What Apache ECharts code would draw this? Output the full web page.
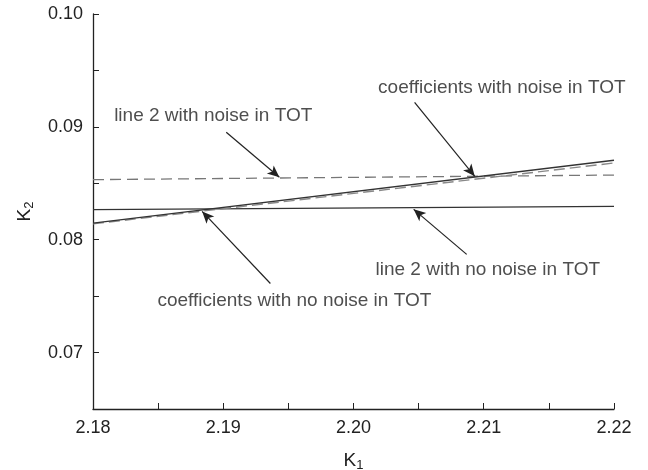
<!DOCTYPE html>
<html>
<head>
<meta charset="utf-8">
<script src="https://cdn.jsdelivr.net/npm/echarts@6/dist/echarts.min.js"></script>
<style>html,body{margin:0;padding:0;background:#fff}#c{width:648px;height:470px}</style>
</head>
<body>
<div id="c"></div>
<script>
// K1 endpoints of the straight lines
const k1Ends = [2.18, 2.22];
// K2 values at those endpoints
const coefNoNoise = [0.08147, 0.08704];   // coefficients, no noise in TOT (solid)
const coefNoise = [0.08140, 0.08680];     // coefficients, noise in TOT (dashed)
const line2NoNoise = [0.08266, 0.08295];  // line 2, no noise in TOT (solid)
const line2Noise = [0.08532, 0.08573];    // line 2, noise in TOT (dashed)

// annotations: text, anchor [K1,K2]
const annoTexts = ['line 2 with noise in TOT', 'coefficients with noise in TOT',
                   'coefficients with no noise in TOT', 'line 2 with no noise in TOT'];
const annoPos = [[2.18923, 0.09102], [2.21139, 0.09343], [2.19546, 0.07462], [2.21031, 0.07737]];
// arrows: from -> to in data space
const arrowFrom = [[2.19023, 0.08952], [2.20469, 0.09218], [2.19362, 0.07612], [2.20869, 0.07870]];
const arrowTo = [[2.19431, 0.08553], [2.20931, 0.08562], [2.18838, 0.08251], [2.20462, 0.08269]];

const xTicks = {min: 2.18, max: 2.22, step: 0.005};
const yTicks = {min: 0.065, max: 0.10, step: 0.005};

const FONT = 'Liberation Sans, Arial, Helvetica, sans-serif';
const fmt = v => (Math.round(v * 1000) % 10 === 0 ? v.toFixed(2) : '');
const pairs = ys => k1Ends.map((x, i) => [x, ys[i]]);

const chart = echarts.init(document.getElementById('c'), null, {renderer: 'canvas'});
chart.setOption({
  animation: false,
  backgroundColor: '#fff',
  grid: {left: 93, right: 34, top: 14, bottom: 61, containLabel: false, outerBoundsMode: 'none'},
  xAxis: {
    type: 'value', min: xTicks.min, max: xTicks.max, interval: xTicks.step,
    axisLine: {lineStyle: {color: '#222', width: 1.3}},
    axisTick: {inside: true, length: 6, lineStyle: {color: '#222', width: 1}},
    axisLabel: {formatter: fmt, color: '#222', fontFamily: FONT, fontSize: 18, margin: 10, showMinLabel: true, showMaxLabel: true},
    splitLine: {show: false},
    name: '{k|K}{s|1}', nameLocation: 'middle', nameGap: 40,
    nameTextStyle: {rich: {k: {fontSize: 19, fontFamily: FONT, color: '#222'},
                           s: {fontSize: 13, fontFamily: FONT, color: '#222', padding: [10, 0, 0, 0]}}}
  },
  yAxis: {
    type: 'value', min: yTicks.min, max: yTicks.max, interval: yTicks.step,
    axisLine: {lineStyle: {color: '#222', width: 1.3}},
    axisTick: {inside: true, length: 6, lineStyle: {color: '#222', width: 1}},
    axisLabel: {formatter: fmt, color: '#222', fontFamily: FONT, fontSize: 18, margin: 10},
    splitLine: {show: false},
    name: '{k|K}{s|2}', nameLocation: 'middle', nameGap: 57, nameRotate: 90,
    nameTextStyle: {rich: {k: {fontSize: 19, fontFamily: FONT, color: '#222'},
                           s: {fontSize: 13, fontFamily: FONT, color: '#222', padding: [10, 0, 0, 0]}}}
  },
  series: [
    {type: 'line', data: pairs(line2Noise), symbol: 'none',
     lineStyle: {color: '#777', width: 1.3, type: [11, 6]}},
    {type: 'line', data: pairs(line2NoNoise), symbol: 'none',
     lineStyle: {color: '#333', width: 1.3}},
    {type: 'line', data: pairs(coefNoise), symbol: 'none',
     lineStyle: {color: '#888', width: 1.4, type: [11, 5]}},
    {type: 'line', data: pairs(coefNoNoise), symbol: 'none',
     lineStyle: {color: '#333', width: 1.4},
     markLine: {
       silent: true, symbol: ['none', 'arrow'], symbolSize: [8, 12],
       label: {show: false},
       lineStyle: {color: '#222', width: 1.2, type: 'solid'},
       data: arrowFrom.map((f, i) => [{coord: f}, {coord: arrowTo[i]}])
     }},
    {type: 'scatter', symbolSize: 0, silent: true,
     data: annoPos.map((p, i) => ({value: p, name: annoTexts[i]})),
     label: {show: true, position: 'inside', formatter: p => p.name,
             fontFamily: FONT, fontSize: 19, color: '#222', align: 'center', verticalAlign: 'middle'}}
  ]
});
</script>
</body>
</html>
